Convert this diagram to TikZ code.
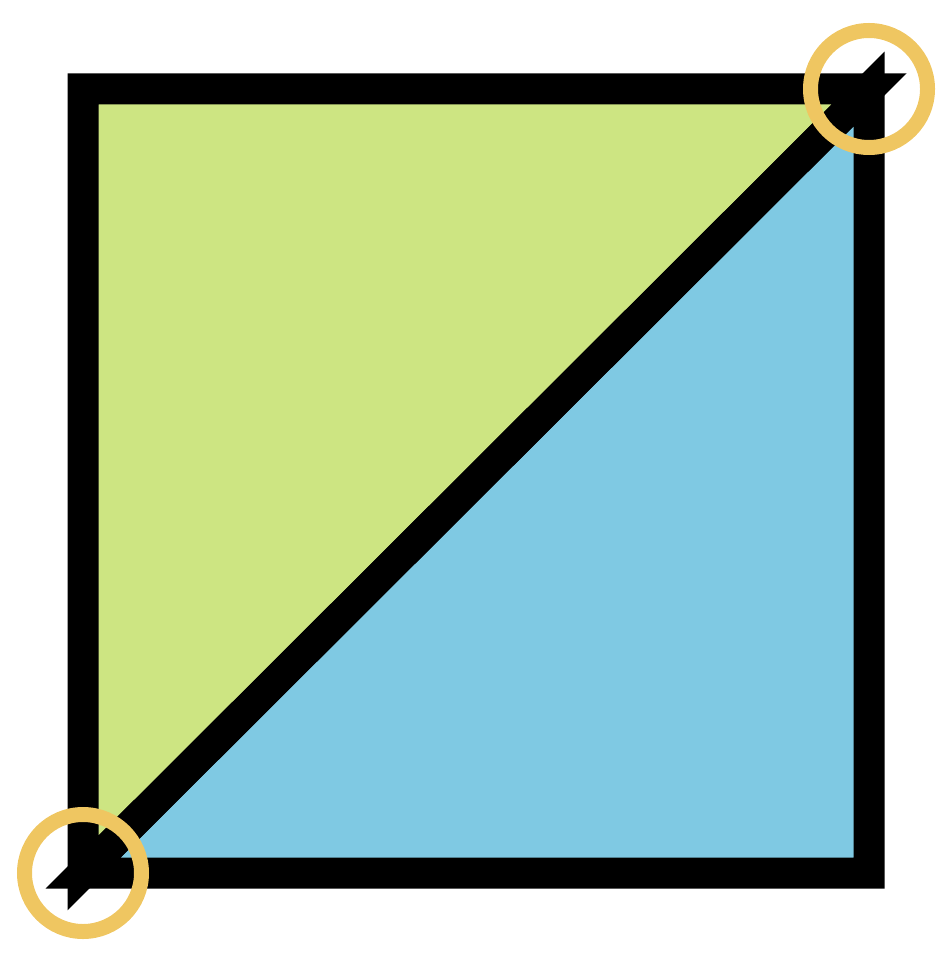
\documentclass[tikz,border=0pt]{standalone}
\definecolor{lgreen}{HTML}{CDE582}
\definecolor{lblue}{HTML}{7FC9E3}
\definecolor{ring}{HTML}{EFC661}
\begin{document}
\begin{tikzpicture}[x=1pt,y=-1pt,
  tri/.style={draw=black,line width=31pt,miter limit=10,line join=miter},
  ringstyle/.style={draw=ring,line width=15pt}]
\useasboundingbox (0,0) rectangle (949,957);
\coordinate (TL) at (83,89);
\coordinate (TR) at (869,89);
\coordinate (BL) at (83,873);
\coordinate (BR) at (869,873);
\fill[lgreen] (TL) -- (TR) -- (BL) -- cycle;
\fill[lblue] (BL) -- (BR) -- (TR) -- cycle;
\draw[tri] (TL) -- (TR) -- (BL) -- cycle;
\draw[tri] (BL) -- (BR) -- (TR) -- cycle;
\draw[ringstyle] (BL) circle[radius=58.5];
\draw[ringstyle] (TR) circle[radius=58.5];
\end{tikzpicture}
\end{document}
